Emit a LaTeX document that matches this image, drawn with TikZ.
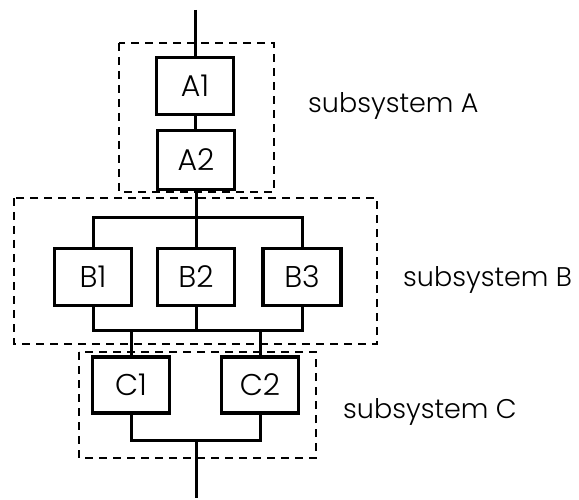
\documentclass[tikz,border=0pt]{standalone}
\usepackage{fontspec}
\setmainfont{Poppins Light}
\begin{document}
\begin{tikzpicture}[x=1pt,y=-1pt,
  unit/.style={draw,line width=3.4pt,minimum width=77pt,minimum height=57pt,inner sep=0pt,font=\fontsize{30}{30}\selectfont},
  wire/.style={line width=3pt,line join=miter},
  group/.style={draw,line width=1.6pt,dash pattern=on 8pt off 6pt},
  caption/.style={anchor=base west,inner sep=0pt,font=\fontsize{27}{27}\selectfont}]
\useasboundingbox (0,0) rectangle (579,500);

% subsystem frames
\draw[group] (119,43) rectangle (274,192);
\draw[group] (14,198) rectangle (377,344);
\draw[group] (79,352) rectangle (316,458);

% units
\node[unit] (A1) at (195,86) {A1};
\node[unit,minimum height=59pt] (A2) at (196,160) {A2};
\node[unit] (B1) at (93,277) {B1};
\node[unit] (B2) at (196,277) {B2};
\node[unit,minimum width=78pt] (B3) at (302,277) {B3};
\node[unit,minimum height=56pt] (C1) at (131,385) {C1};
\node[unit,minimum height=56pt] (C2) at (260,385) {C2};

% bus points
\coordinate (in) at (195,10);
\coordinate (btop) at (196,218);
\coordinate (bbot) at (196,330);
\coordinate (cbot) at (196,440);
\coordinate (out) at (196,498);

% wiring
\draw[wire] (in) -- (A1.north);
\draw[wire] (A1.south) -- (A1.south |- A2.north);
\draw[wire] (A2.south) -- (btop);
\draw[wire] (B1.north) |- (btop) -| (B3.north);
\draw[wire] (btop) -- (B2.north);
\draw[wire] (B1.south) |- (bbot) -| (B3.south);
\draw[wire] (B2.south) -- (bbot);
\draw[wire] (C1.north) -- (C1.north |- bbot);
\draw[wire] (C2.north) -- (C2.north |- bbot);
\draw[wire] (C1.south) |- (cbot) -| (C2.south);
\draw[wire] (cbot) -- (out);

% captions
\node[caption] (capA) at (308,113) {subsystem A};
\node[caption] (capB) at (403,287) {subsystem B};
\node[caption] (capC) at (343,418) {subsystem C};
\end{tikzpicture}
\end{document}
